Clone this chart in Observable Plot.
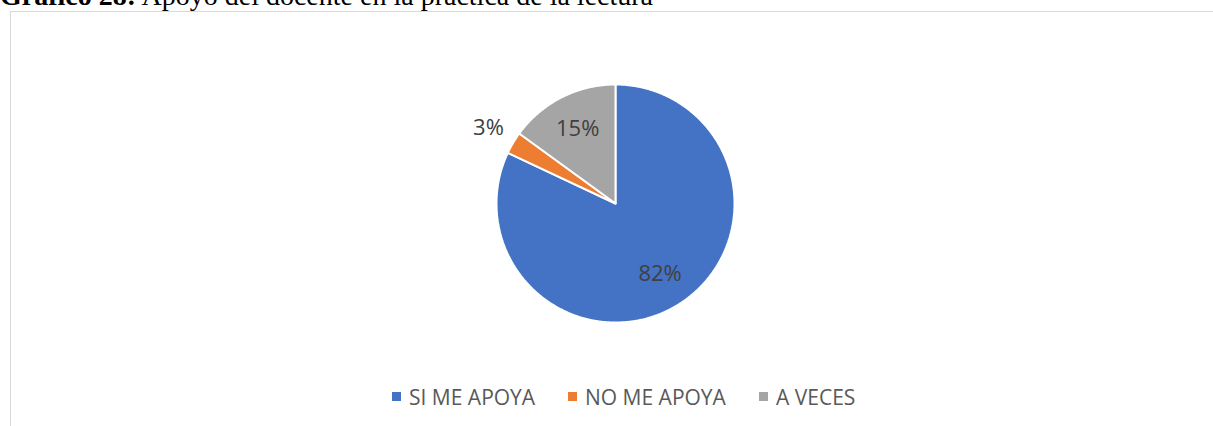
<!DOCTYPE html>
<html>
<head>
<meta charset="utf-8">
<script src="https://cdn.jsdelivr.net/npm/d3@7"></script>
<script src="https://cdn.jsdelivr.net/npm/@observablehq/plot@0.6"></script>
<style>
  html, body { margin: 0; padding: 0; background: #fff; overflow: hidden; }
  body { width: 1213px; height: 426px; position: relative; }
  #title { position: absolute; left: 0; top: -20px; font-family: "Liberation Serif", "Times New Roman", serif; font-size: 28px; line-height: 32px; color: #000; white-space: nowrap; }
  #frame { position: absolute; left: 10px; top: 11px; width: 1300px; height: 500px; border: 1px solid #d9d9d9; box-sizing: border-box; }
  #chart { position: absolute; left: 0; top: 0; }
  #legend { position: absolute; left: 0; top: 383px; width: 1213px; font-family: "Open Sans", sans-serif; font-size: 21px; color: #595959; }
  .item { position: absolute; top: 0; white-space: nowrap; line-height: 28px; }
  .sw { display: inline-block; width: 9px; height: 9px; margin-right: 8px; vertical-align: 4px; }
</style>
</head>
<body>
<div id="title"><b>Gráfico 28:</b> Apoyo del docente en la práctica de la lectura</div>
<div id="frame"></div>
<div id="chart"></div>
<div id="legend"></div>
<script>
const categories = ["SI ME APOYA", "NO ME APOYA", "A VECES"];
const values = [82, 3, 15];
const labels = ["82%", "3%", "15%"];
const colors = ["#4472C4", "#ED7D31", "#A5A5A5"];

const pie = d3.pie().sort(null).value(d => d.value)(categories.map((c, i) => ({cat: c, value: values[i], label: labels[i]})));

// polygon outlines of each slice, in unit-circle data coordinates
const pts = [];
pie.forEach(s => {
  pts.push({cat: s.data.cat, x: 0, y: 0});
  const n = Math.max(2, Math.ceil((s.endAngle - s.startAngle) / (Math.PI / 360)));
  for (let k = 0; k <= n; k++) {
    const a = s.startAngle + (s.endAngle - s.startAngle) * k / n;
    pts.push({cat: s.data.cat, x: Math.sin(a), y: Math.cos(a)});
  }
  pts.push({cat: s.data.cat, x: 0, y: 0});
});

const labelPts = pie.map(s => {
  const a = (s.startAngle + s.endAngle) / 2;
  const r = s.data.value < 5 ? 1.24 : 0.7;
  return {label: s.data.label, x: r * Math.sin(a), y: r * Math.cos(a)};
});

const cx = 615, cy = 203, R = 119;
const chart = Plot.plot({
  width: 1213,
  height: 370,
  margin: 0,
  x: {domain: [-1, 1], range: [cx - R, cx + R], axis: null},
  y: {domain: [-1, 1], range: [cy + R, cy - R], axis: null},
  color: {domain: categories, range: colors},
  style: {background: "transparent", overflow: "visible"},
  marks: [
    Plot.line(pts, {x: "x", y: "y", z: "cat", fill: "cat", stroke: "white", strokeWidth: 2, strokeLinejoin: "miter", curve: "linear"}),
    Plot.text(labelPts, {x: "x", y: "y", text: "label", fill: "#404040", fontSize: 22, fontFamily: "Open Sans, sans-serif"})
  ]
});
document.getElementById("chart").appendChild(chart);

// legend
const legend = document.getElementById("legend");
const lefts = [392, 568, 759];
categories.forEach((c, i) => {
  const it = document.createElement("div");
  it.className = "item";
  it.style.left = lefts[i] + "px";
  it.innerHTML = `<span class="sw" style="background:${colors[i]}"></span>${c}`;
  legend.appendChild(it);
});
</script>
</body>
</html>
